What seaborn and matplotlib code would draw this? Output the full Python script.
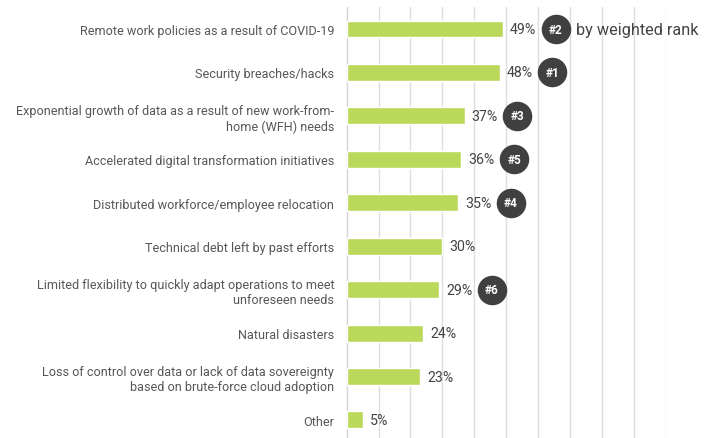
import matplotlib
matplotlib.use("Agg")
import matplotlib.pyplot as plt
import seaborn as sns
import pandas as pd
import numpy as np

categories = [
    "Remote work policies as a result of COVID-19",
    "Security breaches/hacks",
    "Exponential growth of data as a result of new work-from-\nhome (WFH) needs",
    "Accelerated digital transformation initiatives",
    "Distributed workforce/employee relocation",
    "Technical debt left by past efforts",
    "Limited flexibility to quickly adapt operations to meet\nunforeseen needs",
    "Natural disasters",
    "Loss of control over data or lack of data sovereignty\nbased on brute-force cloud adoption",
    "Other",
]
values = [49, 48, 37, 36, 35, 30, 29, 24, 23, 5]
ranks = ["#2", "#1", "#3", "#5", "#4", "", "#6", "", "", ""]

df = pd.DataFrame({"category": categories, "value": values, "rank": ranks})

sns.set_style("white")
plt.rcParams["font.family"] = ["Roboto", "DejaVu Sans"]

fig = plt.figure(figsize=(7.14, 4.39), dpi=100)
ax = fig.add_axes([346.7 / 714, -0.0084, (665.5 - 346.7) / 714, 0.9895])

sns.barplot(data=df, y="category", x="value", color="#bad85a", width=0.39,
            saturation=1, ax=ax, zorder=3)

n = len(categories)
ax.set_ylim(n - 0.5, -0.5)
ax.set_xlim(0, 100)
ax.set_xticks(np.arange(10, 101, 10))
ax.set_xticklabels([])
ax.tick_params(axis="x", length=0)
ax.grid(axis="x", color="#dedede", linewidth=1, zorder=0)
ax.set_axisbelow(True)

for s in ["top", "right", "bottom"]:
    ax.spines[s].set_visible(False)
ax.spines["left"].set_color("#d5d5d5")
ax.spines["left"].set_linewidth(1)

ax.set_ylabel("")
ax.set_xlabel("")
ax.tick_params(axis="y", length=0, pad=9, labelsize=9.1, labelcolor="#575757")
for t in ax.get_yticklabels():
    t.set_horizontalalignment("right")
ax.set_yticks(np.arange(-0.5, n - 0.5, 1), minor=True)
ax.tick_params(axis="y", which="minor", length=4, color="#d5d5d5", width=1)

for i, (v, r) in enumerate(zip(values, ranks)):
    ax.text(v + 2.2, i, f"{v}%", va="center", ha="left", fontsize=10.2,
            color="#444444")
    if r:
        ax.scatter(v + 16.5, i, s=410, color="#404040", zorder=5, clip_on=False)
        ax.text(v + 16.5, i, r, va="center", ha="center", fontsize=8.5,
                fontweight="bold", color="white", zorder=6)

ax.text(values[0] + 22.8, 0, "by weighted rank", va="center", ha="left",
        fontsize=11.7, color="#444444", clip_on=False)

fig.savefig("out.png", dpi=100)
